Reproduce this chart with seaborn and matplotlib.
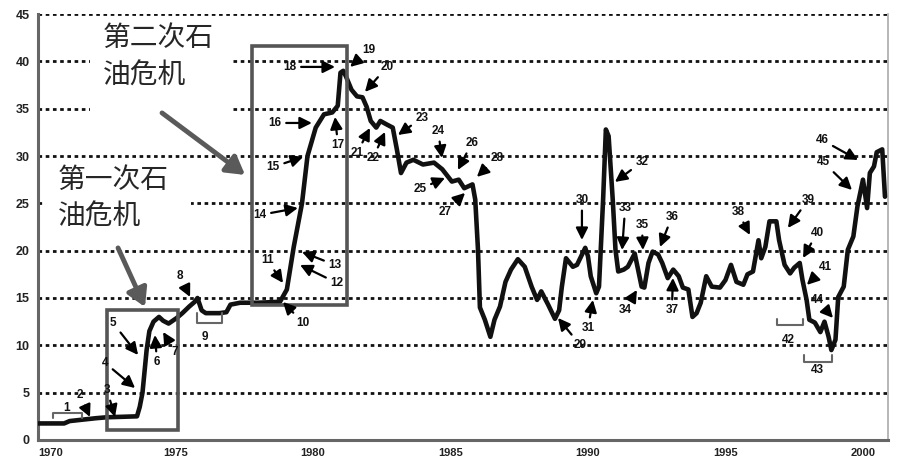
import numpy as np
import pandas as pd
import seaborn as sns
import matplotlib
matplotlib.use("Agg")
import matplotlib.pyplot as plt
from matplotlib.patches import Rectangle

# crude oil price (year, US$/barrel)
year = [1970.0, 1970.95, 1971.15, 1971.8, 1972.1, 1972.5, 1973.6, 1973.7, 1973.8, 1973.95,
        1974.05, 1974.2, 1974.4, 1974.55, 1974.75, 1975.05, 1975.25, 1975.5, 1975.7, 1975.8,
        1975.95, 1976.1, 1976.6, 1976.85, 1977.0, 1977.35, 1978.0, 1978.8, 1979.05, 1979.3,
        1979.6, 1979.8, 1980.1, 1980.4, 1980.7, 1980.9, 1981.0, 1981.1, 1981.2, 1981.4,
        1981.6, 1981.8, 1981.95, 1982.1, 1982.3, 1982.45, 1982.7, 1982.9, 1983.05, 1983.2,
        1983.4, 1983.65, 1984.0, 1984.4, 1984.7, 1985.05, 1985.3, 1985.5, 1985.8, 1985.9,
        1986.0, 1986.07, 1986.25, 1986.45, 1986.6, 1986.8, 1987.0, 1987.2, 1987.45, 1987.7,
        1987.95, 1988.15, 1988.3, 1988.55, 1988.8, 1988.95, 1989.05, 1989.2, 1989.45, 1989.6,
        1989.75, 1989.9, 1990.0, 1990.1, 1990.3, 1990.4, 1990.55, 1990.65, 1990.75, 1990.9,
        1991.0, 1991.1, 1991.3, 1991.45, 1991.7, 1991.95, 1992.05, 1992.2, 1992.35, 1992.55,
        1992.7, 1992.9, 1993.1, 1993.3, 1993.45, 1993.65, 1993.8, 1993.95, 1994.1, 1994.3,
        1994.5, 1994.8, 1995.0, 1995.2, 1995.4, 1995.65, 1995.8, 1996.0, 1996.2, 1996.3,
        1996.45, 1996.6, 1996.85, 1996.95, 1997.15, 1997.35, 1997.5, 1997.7, 1997.8, 1997.95,
        1998.05, 1998.25, 1998.45, 1998.6, 1998.75, 1998.85, 1999.0, 1999.1, 1999.3, 1999.45,
        1999.65, 1999.8, 2000.0, 2000.15, 2000.25, 2000.4, 2000.5, 2000.7, 2000.8]
price = [1.75, 1.75, 2.0, 2.2, 2.3, 2.4, 2.5, 3.5, 5.0, 9.5,
         11.5, 12.5, 13.0, 12.6, 12.3, 12.9, 13.4, 14.1, 14.6, 15.0,
         13.7, 13.4, 13.4, 13.5, 14.3, 14.5, 14.5, 14.6, 15.9, 20.4,
         25.0, 30.0, 33.0, 34.4, 34.6, 35.3, 38.8, 39.0, 38.4, 37.0,
         36.3, 36.2, 35.2, 33.7, 33.0, 33.7, 33.3, 33.0, 30.7, 28.2,
         29.3, 29.6, 29.1, 29.3, 28.6, 27.3, 27.5, 26.6, 27.0, 25.4,
         20.1, 14.0, 12.7, 10.9, 12.7, 14.1, 16.7, 18.0, 19.1, 18.3,
         16.2, 14.8, 15.7, 14.3, 12.8, 13.7, 16.2, 19.2, 18.3, 18.5,
         19.4, 20.3, 19.4, 17.3, 15.5, 16.2, 25.4, 32.8, 32.1, 25.4,
         20.1, 17.8, 18.0, 18.3, 19.7, 16.2, 16.1, 18.7, 19.9, 19.6,
         18.7, 17.1, 18.0, 17.3, 16.1, 15.9, 13.0, 13.4, 14.5, 17.3,
         16.2, 16.1, 16.9, 18.5, 16.7, 16.4, 17.5, 17.8, 21.1, 19.2,
         20.4, 23.1, 23.1, 21.1, 18.5, 17.6, 18.2, 18.7, 16.9, 14.8,
         12.7, 12.4, 11.4, 12.5, 10.9, 9.5, 10.6, 15.1, 16.2, 20.1,
         21.5, 24.7, 27.5, 24.5, 28.2, 28.9, 30.4, 30.7, 25.7]

# numbered event arrows: label, label position, arrow head
events = [
    ("2", (1971.53, 4.75), (1971.89, 2.43)), ("3", (1972.51, 5.28), (1972.8, 2.43)),
    ("4", (1972.44, 8.14), (1973.53, 5.49)), ("5", (1972.73, 12.36), (1973.64, 8.98)),
    ("6", (1974.33, 8.24), (1974.25, 11.09)), ("7", (1974.98, 9.3), (1974.55, 11.41)),
    ("8", (1975.16, 17.33), (1975.53, 15.11)), ("10", (1979.64, 12.36), (1978.91, 14.58)),
    ("11", (1978.33, 19.02), (1978.91, 16.59)), ("12", (1980.87, 16.59), (1979.53, 18.49)),
    ("13", (1980.8, 18.49), (1979.6, 19.86)), ("14", (1978.07, 23.77), (1979.45, 24.51)),
    ("15", (1978.55, 28.84), (1979.64, 29.9)), ("16", (1978.62, 33.49), (1979.96, 33.49)),
    ("17", (1980.91, 31.17), (1980.8, 34.13)), ("18", (1979.16, 39.41), (1980.8, 39.41)),
    ("19", (1982.04, 41.2), (1981.35, 39.41)), ("20", (1982.69, 39.41), (1981.89, 36.77)),
    ("21", (1981.6, 30.32), (1982.07, 32.96)), ("22", (1982.18, 29.79), (1982.62, 32.54)),
    ("23", (1983.96, 34.02), (1983.09, 32.22)), ("24", (1984.55, 32.65), (1984.69, 29.79)),
    ("25", (1983.89, 26.52), (1984.8, 27.68)), ("26", (1985.78, 31.38), (1985.27, 28.53)),
    ("27", (1984.8, 24.09), (1985.53, 26.1)), ("28", (1986.69, 29.79), (1985.96, 27.79)),
    ("29", (1989.71, 10.04), (1988.91, 12.89)), ("30", (1989.78, 25.36), (1989.78, 21.13)),
    ("31", (1990.0, 11.83), (1990.18, 14.79)), ("32", (1991.96, 29.37), (1990.98, 27.26)),
    ("33", (1991.35, 24.51), (1991.24, 20.07)), ("34", (1991.35, 13.73), (1991.78, 15.85)),
    ("35", (1991.96, 22.72), (1992.0, 20.07)), ("36", (1993.05, 23.56), (1992.62, 20.39)),
    ("37", (1993.05, 13.73), (1993.09, 17.12)), ("38", (1995.45, 24.09), (1995.89, 21.66)),
    ("39", (1998.0, 25.36), (1997.27, 22.4)), ("40", (1998.33, 21.87), (1997.82, 19.23)),
    ("41", (1998.62, 18.28), (1997.96, 16.38)), ("44", (1998.33, 14.79), (1998.91, 12.89)),
    ("45", (1998.55, 29.37), (1999.6, 26.41)), ("46", (1998.51, 31.7), (1999.82, 29.58)),
]
# period brackets: label, label position, x0, x1, y of bar, y of tick ends
brackets = [
    ("1", (1971.05, 3.38), 1970.55, 1971.6, 2.85, 2.32),
    ("9", (1976.07, 10.88), 1975.78, 1976.69, 12.36, 13.42),
    ("42", (1997.27, 10.57), 1996.87, 1997.82, 12.15, 12.78),
    ("43", (1998.33, 7.4), 1997.85, 1998.87, 8.24, 8.98),
]

sns.set_style("white")
plt.rcParams["font.family"] = ["Liberation Sans", "DejaVu Sans"]
cjk = ["Noto Sans CJK SC", "DejaVu Sans"]

fig = plt.figure(figsize=(9, 4.63), dpi=100)
ax = fig.add_axes([38 / 900, 23 / 463, 850 / 900, 426 / 463])

# dotted gridlines
for g in range(5, 50, 5):
    ax.axhline(g, color="#111111", lw=2.0, ls=(0, (1.3, 1.3)), zorder=1)

# white patches behind the captions
ax.add_patch(Rectangle((1970.25, 21.2), 5.3, 7.8, fc="white", ec="none", zorder=1.5))
ax.add_patch(Rectangle((1971.9, 34.3), 5.2, 10.0, fc="white", ec="none", zorder=1.5))

sns.lineplot(x=year, y=price, ax=ax, color="#111111", lw=3.3, sort=False,
             estimator=None, zorder=3)

# crisis boxes
ax.add_patch(Rectangle((1972.51, 1.06), 2.58, 12.67, fill=False, ec="#555555", lw=2.6, zorder=4))
ax.add_patch(Rectangle((1977.78, 14.26), 3.46, 27.37, fill=False, ec="#555555", lw=2.6, zorder=4))

# captions + big gray arrows
ax.text(1970.73, 29.1, "第一次石\n油危机", fontsize=20, family=cjk, fontweight="light",
        va="top", ha="left", linespacing=1.3, zorder=5)
ax.text(1972.36, 44.0, "第二次石\n油危机", fontsize=20, family=cjk, fontweight="light",
        va="top", ha="left", linespacing=1.3, zorder=5)
big = dict(arrowstyle="-|>,head_length=0.6,head_width=0.35", lw=3.5, color="#5a5a5a",
           mutation_scale=18, shrinkA=0, shrinkB=0)
ax.annotate("", xy=(1973.89, 14.05), xytext=(1972.91, 20.29), arrowprops=big, zorder=5)
ax.annotate("", xy=(1977.53, 28.0), xytext=(1974.51, 34.55), arrowprops=big, zorder=5)

small = dict(arrowstyle="-|>,head_length=0.6,head_width=0.3", lw=1.6, color="black",
             mutation_scale=12, shrinkA=1, shrinkB=0)
for lab, txt, head in events:
    ax.annotate(lab, xy=head, xytext=txt, ha="center", va="center", fontsize=8.5,
                fontweight="bold", color="#111111", arrowprops=small, zorder=6)

for lab, txt, x0, x1, ybar, yend in brackets:
    ax.plot([x0, x0, x1, x1], [yend, ybar, ybar, yend], color="#666666", lw=1.5, zorder=5)
    ax.text(txt[0], txt[1], lab, ha="center", va="center", fontsize=8.5,
            fontweight="bold", color="#111111", zorder=6)

ax.set_xlim(1970, 2000.91)
ax.set_ylim(0, 45)
ax.set_xticks(range(1970, 2001, 5))
ax.set_xticks(range(1970, 2001), minor=True)
ax.set_yticks(range(0, 46, 5))
ax.tick_params(axis="both", which="both", direction="out", color="#555555", width=1.5)
ax.tick_params(axis="x", which="major", length=4, pad=2, labelsize=8)
ax.tick_params(axis="x", which="minor", length=4)
ax.tick_params(axis="y", length=4, pad=2, labelsize=9)
for t in ax.get_xticklabels() + ax.get_yticklabels():
    t.set_fontweight("bold")
    t.set_color("#222222")
ax.get_xticklabels()[0].set_horizontalalignment("left")

ax.spines["top"].set_visible(False)
ax.spines["left"].set_color("#666666")
ax.spines["left"].set_linewidth(2.2)
ax.spines["bottom"].set_color("#666666")
ax.spines["bottom"].set_linewidth(2.2)
ax.spines["right"].set_color("#aaaaaa")
ax.spines["right"].set_linewidth(1.2)
ax.set_xlabel("")
ax.set_ylabel("")

fig.savefig("out.png", dpi=100)
